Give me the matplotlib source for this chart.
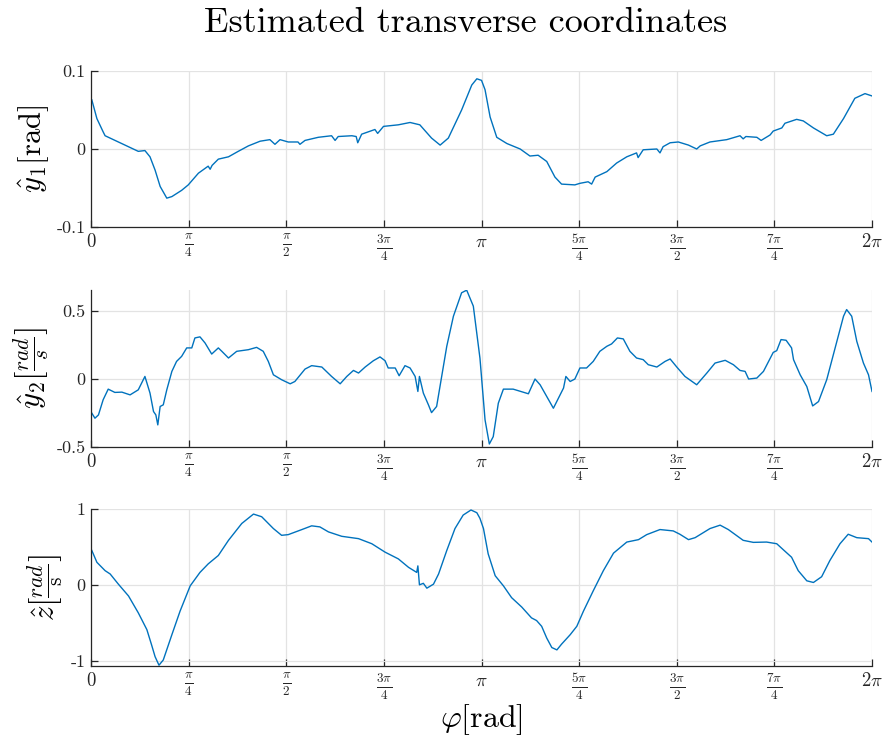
import numpy as np
import matplotlib
matplotlib.use("Agg")
import matplotlib.pyplot as plt

plt.rcParams['mathtext.fontset'] = 'cm'
plt.rcParams['font.family'] = 'serif'
plt.rcParams['font.serif'] = ['cmr10']
plt.rcParams['axes.formatter.use_mathtext'] = True

# phase samples in units of pi, and the three estimated coordinates
phi1 = [0.002, 0.015, 0.031, 0.036, 0.070, 0.121, 0.138, 0.151, 0.164, 0.177, 0.194, 0.207,
        0.232, 0.249, 0.275, 0.300, 0.305, 0.310, 0.326, 0.352, 0.377, 0.403, 0.433, 0.458,
        0.471, 0.484, 0.505, 0.530, 0.535, 0.548, 0.582, 0.616, 0.625, 0.633, 0.668, 0.679,
        0.683, 0.693, 0.727, 0.734, 0.749, 0.787, 0.817, 0.842, 0.872, 0.894, 0.915, 0.949,
        0.975, 0.988, 1.000, 1.009, 1.022, 1.039, 1.065, 1.099, 1.124, 1.145, 1.167, 1.188,
        1.205, 1.239, 1.252, 1.273, 1.282, 1.291, 1.321, 1.346, 1.372, 1.397, 1.401, 1.414,
        1.449, 1.457, 1.465, 1.483, 1.504, 1.530, 1.551, 1.560, 1.585, 1.628, 1.662, 1.670,
        1.677, 1.705, 1.716, 1.739, 1.747, 1.769, 1.777, 1.807, 1.824, 1.850, 1.884, 1.901,
        1.927, 1.956, 1.982, 2.000]
y1 = [0.063, 0.039, 0.022, 0.017, 0.009, -0.003, -0.002, -0.010, -0.027, -0.048, -0.063, -0.061,
      -0.053, -0.046, -0.031, -0.022, -0.026, -0.021, -0.013, -0.010, -0.003, 0.004, 0.010, 0.012,
      0.006, 0.012, 0.009, 0.009, 0.006, 0.011, 0.015, 0.017, 0.011, 0.016, 0.017, 0.016,
      0.008, 0.019, 0.025, 0.020, 0.029, 0.031, 0.034, 0.031, 0.014, 0.005, 0.014, 0.050,
      0.082, 0.090, 0.088, 0.076, 0.041, 0.015, 0.007, 0.000, -0.009, -0.008, -0.016, -0.036,
      -0.045, -0.046, -0.044, -0.042, -0.045, -0.036, -0.029, -0.018, -0.010, -0.005, -0.011, -0.001,
      0.000, -0.005, 0.003, 0.008, 0.009, 0.005, 0.000, 0.004, 0.009, 0.012, 0.017, 0.013,
      0.016, 0.015, 0.011, 0.018, 0.023, 0.027, 0.033, 0.038, 0.036, 0.027, 0.017, 0.019,
      0.039, 0.065, 0.071, 0.068]

phi2 = [0.002, 0.010, 0.019, 0.031, 0.044, 0.061, 0.079, 0.100, 0.121, 0.138, 0.151, 0.160,
        0.166, 0.171, 0.177, 0.185, 0.194, 0.207, 0.219, 0.232, 0.245, 0.258, 0.266, 0.279,
        0.292, 0.309, 0.326, 0.335, 0.352, 0.373, 0.403, 0.424, 0.441, 0.454, 0.467, 0.488,
        0.510, 0.522, 0.548, 0.565, 0.591, 0.616, 0.638, 0.655, 0.672, 0.685, 0.702, 0.723,
        0.740, 0.753, 0.761, 0.779, 0.789, 0.804, 0.817, 0.830, 0.837, 0.841, 0.851, 0.864,
        0.872, 0.885, 0.911, 0.928, 0.949, 0.962, 0.979, 0.996, 1.009, 1.020, 1.030, 1.043,
        1.056, 1.081, 1.120, 1.137, 1.150, 1.167, 1.184, 1.197, 1.210, 1.216, 1.227, 1.239,
        1.252, 1.269, 1.286, 1.303, 1.321, 1.333, 1.348, 1.363, 1.380, 1.397, 1.414, 1.427,
        1.449, 1.470, 1.483, 1.500, 1.521, 1.551, 1.577, 1.598, 1.624, 1.645, 1.662, 1.675,
        1.684, 1.705, 1.722, 1.747, 1.756, 1.767, 1.780, 1.794, 1.799, 1.816, 1.833, 1.848,
        1.863, 1.884, 1.910, 1.927, 1.935, 1.948, 1.961, 1.978, 1.991, 2.000]
y2 = [-0.252, -0.289, -0.265, -0.154, -0.076, -0.100, -0.098, -0.118, -0.081, 0.017, -0.105, -0.240,
      -0.265, -0.338, -0.203, -0.191, -0.081, 0.054, 0.127, 0.164, 0.226, 0.226, 0.299, 0.307,
      0.262, 0.181, 0.226, 0.201, 0.152, 0.201, 0.213, 0.230, 0.201, 0.127, 0.029, -0.007,
      -0.037, -0.020, 0.071, 0.096, 0.086, 0.017, -0.037, 0.017, 0.061, 0.042, 0.086, 0.132,
      0.160, 0.132, 0.079, 0.079, 0.022, 0.096, 0.079, 0.017, -0.093, 0.017, -0.105, -0.191,
      -0.248, -0.203, 0.238, 0.458, 0.630, 0.649, 0.532, 0.150, -0.301, -0.478, -0.424, -0.179,
      -0.076, -0.076, -0.110, -0.002, -0.044, -0.130, -0.216, -0.142, -0.068, 0.017, -0.020, -0.002,
      0.079, 0.079, 0.127, 0.201, 0.238, 0.255, 0.299, 0.292, 0.201, 0.152, 0.140, 0.103,
      0.086, 0.127, 0.145, 0.086, 0.017, -0.044, 0.042, 0.115, 0.135, 0.103, 0.061, 0.054,
      -0.002, 0.005, 0.054, 0.193, 0.206, 0.287, 0.282, 0.226, 0.140, 0.029, -0.057, -0.199,
      -0.167, -0.007, 0.274, 0.458, 0.507, 0.458, 0.274, 0.115, 0.029, -0.093]

phi3 = [0.002, 0.015, 0.036, 0.049, 0.070, 0.096, 0.121, 0.143, 0.155, 0.164, 0.174, 0.185,
        0.207, 0.228, 0.254, 0.279, 0.300, 0.326, 0.352, 0.386, 0.416, 0.437, 0.467, 0.488,
        0.505, 0.540, 0.565, 0.586, 0.608, 0.642, 0.685, 0.719, 0.753, 0.787, 0.813, 0.834,
        0.837, 0.841, 0.851, 0.860, 0.877, 0.890, 0.911, 0.932, 0.953, 0.973, 0.988, 0.996,
        1.005, 1.017, 1.035, 1.056, 1.077, 1.103, 1.128, 1.141, 1.154, 1.167, 1.180, 1.193,
        1.205, 1.227, 1.244, 1.261, 1.286, 1.312, 1.338, 1.372, 1.402, 1.423, 1.457, 1.491,
        1.508, 1.530, 1.547, 1.585, 1.611, 1.632, 1.670, 1.696, 1.730, 1.756, 1.773, 1.794,
        1.811, 1.833, 1.850, 1.871, 1.892, 1.918, 1.939, 1.961, 1.991, 2.000]
z = [0.453, 0.297, 0.187, 0.143, 0.009, -0.147, -0.369, -0.591, -0.791, -0.947, -1.060, -0.991,
     -0.658, -0.347, -0.013, 0.164, 0.276, 0.387, 0.587, 0.809, 0.933, 0.898, 0.742, 0.653,
     0.662, 0.729, 0.778, 0.764, 0.698, 0.640, 0.609, 0.542, 0.431, 0.342, 0.231, 0.164,
     0.250, 0.000, 0.020, -0.044, 0.009, 0.143, 0.453, 0.742, 0.920, 0.987, 0.951, 0.876,
     0.742, 0.409, 0.120, -0.013, -0.169, -0.293, -0.436, -0.471, -0.547, -0.702, -0.827, -0.858,
     -0.782, -0.658, -0.547, -0.347, -0.080, 0.187, 0.418, 0.564, 0.596, 0.662, 0.729, 0.711,
     0.667, 0.596, 0.622, 0.742, 0.787, 0.729, 0.587, 0.560, 0.564, 0.542, 0.462, 0.364,
     0.187, 0.053, 0.031, 0.107, 0.320, 0.542, 0.667, 0.622, 0.609, 0.564]

xtick_labels = [r'$0$', r'$\frac{\pi}{4}$', r'$\frac{\pi}{2}$', r'$\frac{3\pi}{4}$', r'$\pi$',
                r'$\frac{5\pi}{4}$', r'$\frac{3\pi}{2}$', r'$\frac{7\pi}{4}$', r'$2\pi$']

series = [
    (phi1, y1, (-0.1, 0.1), [-0.1, 0, 0.1], ['-0.1', '0', '0.1'],
     r'$\hat{y}_1[\mathrm{rad}]$'),
    (phi2, y2, (-0.5, 0.65), [-0.5, 0, 0.5], ['-0.5', '0', '0.5'],
     r'$\hat{y}_2\left[\frac{rad}{s}\right]$'),
    (phi3, z, (-1.07, 1.0), [-1, 0, 1], ['-1', '0', '1'],
     r'$\hat{z}\left[\frac{rad}{\mathrm{s}}\right]$'),
]

fig = plt.figure(figsize=(8.89, 7.38), dpi=100)
bottoms = [0.6924, 0.3943, 0.0976]
heights = [0.2114, 0.2127, 0.2127]
dark = '#262626'

for (ph, val, ylim, yt, ytl, ylab), b, h in zip(series, bottoms, heights):
    ax = fig.add_axes([0.1024, b, 0.8785, h])
    ax.plot(np.array(ph) * np.pi, val, color='#0072BD', lw=1.0)
    ax.set_xlim(0, 2 * np.pi)
    ax.set_ylim(*ylim)
    ax.set_xticks(np.arange(9) * np.pi / 4)
    ax.set_xticklabels(xtick_labels, fontsize=13.5)
    ax.set_yticks(yt)
    ax.set_yticklabels(ytl, fontsize=13)
    ax.grid(True, color='#e3e3e3', lw=0.9)
    ax.set_axisbelow(True)
    for s in ['top', 'right']:
        ax.spines[s].set_visible(False)
    for s in ['left', 'bottom']:
        ax.spines[s].set_color(dark)
        ax.spines[s].set_linewidth(0.9)
    ax.tick_params(direction='in', length=5, width=0.9, colors=dark, pad=4)
    ax.set_ylabel(ylab, fontsize=22, labelpad=4)
    last = ax

last.set_xlabel(r'$\varphi[\mathrm{rad}]$', fontsize=23, labelpad=0)
fig.text(0.5236, 0.969, 'Estimated transverse coordinates', ha='center', va='center',
         fontsize=26, color='black')

fig.savefig('out.png', dpi=100)
